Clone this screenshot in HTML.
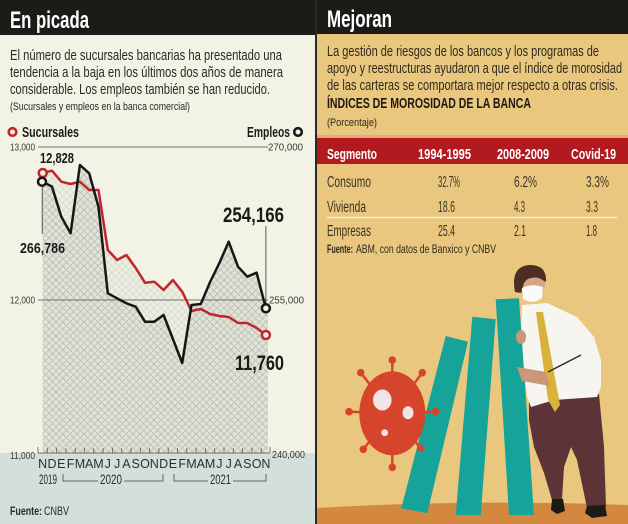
<!DOCTYPE html>
<html><head><meta charset="utf-8"><style>
html,body{margin:0;padding:0;background:#fff;}
svg{display:block;}
text{font-family:"Liberation Sans Narrow","Liberation Sans",sans-serif;}
</style></head><body>
<svg width="628" height="524" viewBox="0 0 628 524" xmlns="http://www.w3.org/2000/svg">
<defs>
<pattern id="xh" width="7" height="7" patternUnits="userSpaceOnUse">
<rect width="7" height="7" fill="#e1e3d8"/>
<path d="M0,0 L7,7 M7,0 L0,7" stroke="#b7baae" stroke-width="0.7"/>
</pattern>
<pattern id="lh" width="7" height="7" patternUnits="userSpaceOnUse">
<rect width="7" height="7" fill="#eceee2"/>
<path d="M0,0 L7,7 M7,0 L0,7" stroke="#d0d2c6" stroke-width="0.6"/>
</pattern>
</defs>

<!-- LEFT PANEL -->
<rect x="0" y="0" width="315" height="524" fill="#f2f2e5"/>
<rect x="0" y="453" width="315" height="71" fill="#d2dfdb"/>
<rect x="0" y="0" width="315" height="35" fill="#1c1b18"/>
<text x="10" y="28" font-size="24" font-weight="bold" fill="#ffffff" textLength="79" lengthAdjust="spacingAndGlyphs">En picada</text>

<text x="10" y="60" font-size="14.5" fill="#2a2a28" textLength="272" lengthAdjust="spacingAndGlyphs">El número de sucursales bancarias ha presentado una</text>
<text x="10" y="77" font-size="14.5" fill="#2a2a28" textLength="273" lengthAdjust="spacingAndGlyphs">tendencia a la baja en los últimos dos años de manera</text>
<text x="10" y="94" font-size="14.5" fill="#2a2a28" textLength="260" lengthAdjust="spacingAndGlyphs">considerable. Los empleos también se han reducido.</text>
<text x="10" y="110" font-size="11" fill="#2a2a28" textLength="180" lengthAdjust="spacingAndGlyphs">(Sucursales y empleos en la banca comercial)</text>

<circle cx="12.5" cy="132" r="3.8" fill="#f2f2e5" stroke="#c0262c" stroke-width="2.6"/>
<text x="22" y="137" font-size="14.5" font-weight="bold" fill="#1c1c1a" textLength="57" lengthAdjust="spacingAndGlyphs">Sucursales</text>
<text x="247" y="137" font-size="14.5" font-weight="bold" fill="#1c1c1a" textLength="43" lengthAdjust="spacingAndGlyphs">Empleos</text>
<circle cx="298" cy="132" r="3.8" fill="#f2f2e5" stroke="#1a1a1a" stroke-width="2.6"/>

<!-- areas -->
<polygon fill="url(#lh)" points="42.7,173 52,170.7 61.3,181.7 70.6,184 79.9,181.7 89.2,190 98.5,190 107.8,250 117.1,260 126.4,255 135.7,268 145,282.7 154.3,281.7 163.6,290 172.9,280 182.2,291.7 191.5,311 200.8,309 210.1,314 219.4,316 228.7,317 238,323 247.3,323 256.6,328 265.9,335 268,335 268,453 42.7,453"/>
<polygon fill="url(#xh)" points="42.7,181.7 52,186.7 61.3,216.7 70.6,233.3 79.9,165 89.2,173.3 98.5,207 107.8,293.3 117.1,298.3 126.4,303.3 135.7,306.7 145,321.7 154.3,321.7 163.6,315 172.9,339 182.2,363 191.5,305 200.8,304 210.1,282 219.4,263 228.7,241.7 238,266.7 247.3,276.7 256.6,272.7 265.9,308.3 268,308.3 268,453 42.7,453"/>

<!-- grid -->
<line x1="38" y1="147" x2="268" y2="147" stroke="#4a4a46" stroke-width="0.8"/>
<line x1="38" y1="300" x2="268" y2="300" stroke="#4a4a46" stroke-width="0.8"/>
<line x1="38" y1="453" x2="270" y2="453" stroke="#4a4a46" stroke-width="0.8"/>
<g stroke="#5a5a56" stroke-width="0.8">
<line x1="38" y1="447" x2="38" y2="453"/><line x1="47.3" y1="448" x2="47.3" y2="453"/><line x1="56.6" y1="448" x2="56.6" y2="453"/><line x1="65.9" y1="448" x2="65.9" y2="453"/><line x1="75.2" y1="448" x2="75.2" y2="453"/><line x1="84.5" y1="448" x2="84.5" y2="453"/><line x1="93.8" y1="448" x2="93.8" y2="453"/><line x1="103.1" y1="448" x2="103.1" y2="453"/><line x1="112.4" y1="448" x2="112.4" y2="453"/><line x1="121.7" y1="448" x2="121.7" y2="453"/><line x1="131" y1="448" x2="131" y2="453"/><line x1="140.3" y1="448" x2="140.3" y2="453"/><line x1="149.6" y1="448" x2="149.6" y2="453"/><line x1="158.9" y1="448" x2="158.9" y2="453"/><line x1="168.2" y1="448" x2="168.2" y2="453"/><line x1="177.5" y1="448" x2="177.5" y2="453"/><line x1="186.8" y1="448" x2="186.8" y2="453"/><line x1="196.1" y1="448" x2="196.1" y2="453"/><line x1="205.4" y1="448" x2="205.4" y2="453"/><line x1="214.7" y1="448" x2="214.7" y2="453"/><line x1="224" y1="448" x2="224" y2="453"/><line x1="233.3" y1="448" x2="233.3" y2="453"/><line x1="242.6" y1="448" x2="242.6" y2="453"/><line x1="251.9" y1="448" x2="251.9" y2="453"/><line x1="261.2" y1="448" x2="261.2" y2="453"/><line x1="270" y1="447" x2="270" y2="453"/>
</g>

<g font-size="10" fill="#3a3a36">
<text x="10" y="150.5" textLength="25" lengthAdjust="spacingAndGlyphs">13,000</text>
<text x="10" y="303.5" textLength="25" lengthAdjust="spacingAndGlyphs">12,000</text>
<text x="10" y="459" textLength="25" lengthAdjust="spacingAndGlyphs">11,000</text>
<text x="268" y="150.5" textLength="35" lengthAdjust="spacingAndGlyphs">270,000</text>
<text x="269" y="303.5" textLength="35" lengthAdjust="spacingAndGlyphs">255,000</text>
<text x="272" y="458" textLength="33" lengthAdjust="spacingAndGlyphs">240,000</text>
</g>

<!-- lines -->
<polyline fill="none" stroke="#c0262c" stroke-width="2.5" stroke-linejoin="round" points="42.7,173 52,170.7 61.3,181.7 70.6,184 79.9,181.7 89.2,190 98.5,190 107.8,250 117.1,260 126.4,255 135.7,268 145,282.7 154.3,281.7 163.6,290 172.9,280 182.2,291.7 191.5,311 200.8,309 210.1,314 219.4,316 228.7,317 238,323 247.3,323 256.6,328 265.9,335"/>
<polyline fill="none" stroke="#161616" stroke-width="2.5" stroke-linejoin="round" points="42.7,181.7 52,186.7 61.3,216.7 70.6,233.3 79.9,165 89.2,173.3 98.5,207 107.8,293.3 117.1,298.3 126.4,303.3 135.7,306.7 145,321.7 154.3,321.7 163.6,315 172.9,339 182.2,363 191.5,305 200.8,304 210.1,282 219.4,263 228.7,241.7 238,266.7 247.3,276.7 256.6,272.7 265.9,308.3"/>

<line x1="42.2" y1="186" x2="42.2" y2="234" stroke="#333" stroke-width="0.8"/>
<line x1="265.9" y1="226" x2="265.9" y2="303" stroke="#333" stroke-width="0.8"/>

<circle cx="42.7" cy="173" r="4" fill="#f2f2e5" stroke="#c0262c" stroke-width="2.5"/>
<circle cx="42" cy="181.7" r="4" fill="#f2f2e5" stroke="#161616" stroke-width="2.5"/>
<circle cx="265.9" cy="335" r="4" fill="#f2f2e5" stroke="#c0262c" stroke-width="2.5"/>
<circle cx="265.9" cy="308.3" r="4" fill="#f2f2e5" stroke="#161616" stroke-width="2.5"/>

<g font-weight="bold" fill="#1a1a1a">
<text x="40" y="163" font-size="15" textLength="34" lengthAdjust="spacingAndGlyphs">12,828</text>
<text x="20" y="253" font-size="15" textLength="45" lengthAdjust="spacingAndGlyphs">266,786</text>
<text x="223" y="222" font-size="21" textLength="61" lengthAdjust="spacingAndGlyphs">254,166</text>
<text x="235" y="370" font-size="21" textLength="49" lengthAdjust="spacingAndGlyphs">11,760</text>
</g>

<g font-size="12.5" fill="#2e2e2c" text-anchor="middle">
<text x="42.7" y="468">N</text><text x="52" y="468">D</text><text x="61.3" y="468">E</text><text x="70.6" y="468">F</text><text x="79.9" y="468">M</text><text x="89.2" y="468">A</text><text x="98.5" y="468">M</text><text x="107.8" y="468">J</text><text x="117.1" y="468">J</text><text x="126.4" y="468">A</text><text x="135.7" y="468">S</text><text x="145" y="468">O</text><text x="154.3" y="468">N</text><text x="163.6" y="468">D</text><text x="172.9" y="468">E</text><text x="182.2" y="468">F</text><text x="191.5" y="468">M</text><text x="200.8" y="468">A</text><text x="210.1" y="468">M</text><text x="219.4" y="468">J</text><text x="228.7" y="468">J</text><text x="238" y="468">A</text><text x="247.3" y="468">S</text><text x="256.6" y="468">O</text><text x="265.9" y="468">N</text>
</g>
<g font-size="14" fill="#2e2e2c">
<text x="39" y="484" textLength="18" lengthAdjust="spacingAndGlyphs">2019</text>
<text x="100" y="484" textLength="22" lengthAdjust="spacingAndGlyphs">2020</text>
<text x="210" y="484" textLength="21" lengthAdjust="spacingAndGlyphs">2021</text>
</g>
<g fill="none" stroke="#444" stroke-width="0.8">
<polyline points="63,474 63,481 98,481"/>
<polyline points="124,481 163,481 163,474"/>
<polyline points="174,474 174,481 208,481"/>
<polyline points="233,481 266,481 266,474"/>
</g>
<text x="10" y="515" font-size="12" font-weight="bold" fill="#2a2a28" textLength="32" lengthAdjust="spacingAndGlyphs">Fuente:</text>
<text x="44" y="515" font-size="12" fill="#2a2a28" textLength="25" lengthAdjust="spacingAndGlyphs">CNBV</text>

<!-- separator -->
<rect x="315" y="0" width="2" height="524" fill="#2a2925"/>

<!-- RIGHT PANEL -->
<rect x="317" y="0" width="311" height="524" fill="#eac77f"/>
<rect x="317" y="0" width="311" height="34" fill="#1c1b18"/>
<text x="327" y="27" font-size="24" font-weight="bold" fill="#ffffff" textLength="65" lengthAdjust="spacingAndGlyphs">Mejoran</text>

<g font-size="14.5" fill="#2e2a1e">
<text x="327" y="56" textLength="272" lengthAdjust="spacingAndGlyphs">La gestión de riesgos de los bancos y los programas de</text>
<text x="327" y="73" textLength="295" lengthAdjust="spacingAndGlyphs">apoyo y reestructuras ayudaron a que el índice de morosidad</text>
<text x="327" y="90" textLength="291" lengthAdjust="spacingAndGlyphs">de las carteras se comportara mejor respecto a otras crisis.</text>
<text x="327" y="108" font-weight="bold" fill="#1e1a12" textLength="204" lengthAdjust="spacingAndGlyphs">ÍNDICES DE MOROSIDAD DE LA BANCA</text>
</g>
<text x="327" y="126" font-size="11" fill="#2e2a1e" textLength="50" lengthAdjust="spacingAndGlyphs">(Porcentaje)</text>

<rect x="317" y="135" width="311" height="3" fill="#e7a77a"/>
<rect x="317" y="138" width="311" height="26" fill="#b31a20"/>
<g font-size="14.5" font-weight="bold" fill="#ffffff">
<text x="327" y="159" textLength="50" lengthAdjust="spacingAndGlyphs">Segmento</text>
<text x="418" y="159" textLength="53" lengthAdjust="spacingAndGlyphs">1994-1995</text>
<text x="497" y="159" textLength="52" lengthAdjust="spacingAndGlyphs">2008-2009</text>
<text x="571" y="159" textLength="45" lengthAdjust="spacingAndGlyphs">Covid-19</text>
</g>
<g font-size="15.5" fill="#3b3423">
<text x="327" y="187" textLength="44" lengthAdjust="spacingAndGlyphs">Consumo</text>
<text x="438" y="187" textLength="22" lengthAdjust="spacingAndGlyphs">32.7%</text>
<text x="514" y="187" textLength="23" lengthAdjust="spacingAndGlyphs">6.2%</text>
<text x="586" y="187" textLength="23" lengthAdjust="spacingAndGlyphs">3.3%</text>
<text x="327" y="212" textLength="39" lengthAdjust="spacingAndGlyphs">Vivienda</text>
<text x="438" y="212" textLength="17" lengthAdjust="spacingAndGlyphs">18.6</text>
<text x="514" y="212" textLength="11" lengthAdjust="spacingAndGlyphs">4.3</text>
<text x="586" y="212" textLength="12" lengthAdjust="spacingAndGlyphs">3.3</text>
<text x="327" y="236" textLength="44" lengthAdjust="spacingAndGlyphs">Empresas</text>
<text x="438" y="236" textLength="17" lengthAdjust="spacingAndGlyphs">25.4</text>
<text x="514" y="236" textLength="12" lengthAdjust="spacingAndGlyphs">2.1</text>
<text x="586" y="236" textLength="11" lengthAdjust="spacingAndGlyphs">1.8</text>
</g>
<line x1="327" y1="217.5" x2="617" y2="217.5" stroke="#f6ecd2" stroke-width="1.5"/>
<text x="327" y="253" font-size="11.5" font-weight="bold" fill="#2e2a1e" textLength="26" lengthAdjust="spacingAndGlyphs">Fuente:</text>
<text x="356" y="253" font-size="11.5" fill="#2e2a1e" textLength="140" lengthAdjust="spacingAndGlyphs">ABM, con datos de Banxico y CNBV</text>

<!-- ground -->
<path d="M317,508 Q470,499 628,505 L628,524 L317,524 Z" fill="#d4873f"/>

<!-- man: pants -->
<polygon fill="#5c3337" points="529,398 599,394 604,447 606,507 587,508 577,460 571,447 564,467 562,500 552,500 544,473 534,447 529,420"/>
<!-- shoes -->
<polygon fill="#1e1a18" points="552,499 563,499 565,511 557,514 551,510"/>
<polygon fill="#1e1a18" points="587,506 605,505 607,516 592,518 585,513"/>
<!-- shirt -->
<polygon fill="#f7f5f0" points="522,305 547,303 577,317 594,337 601,360 601,387 597,397 554,400 531,407 527,397 524,370 521,337"/>
<!-- tie -->
<polygon fill="#d9b23a" points="536,312 543,312 560,405 555,412 548,400"/>
<!-- head -->
<ellipse cx="531" cy="283" rx="14" ry="15" fill="#d6a486"/>
<path d="M515,292 Q510,266 530,265 Q547,265 546,282 L539,278 Q528,276 524,283 L521,293 Z" fill="#4a2f22"/>
<path d="M522,288 Q532,283 543,287 L542,298 Q533,305 523,299 Z" fill="#fbfaf7"/>

<!-- bars -->
<polygon fill="#16a39a" points="445.7,336 468,341.7 427.3,513.3 401.3,508.3"/>
<polygon fill="#16a39a" points="472.3,316.7 495.7,319.3 480.7,515 455.7,515"/>
<polygon fill="#16a39a" points="495.7,299.3 519,298.3 534,515 509,515"/>

<!-- hands & pointer -->
<ellipse cx="521" cy="337" rx="5" ry="7" fill="#c9977a"/>
<polygon fill="#c9977a" points="517,367 546,372 550,386 522,381"/>
<line x1="548" y1="372" x2="581" y2="355" stroke="#2a2a2a" stroke-width="1.5"/>

<!-- virus -->
<g fill="#d6452b" stroke="#d6452b">
<g stroke-width="2.5">
<line x1="392.3" y1="413" x2="392.3" y2="360"/>
<line x1="392.3" y1="413" x2="360.7" y2="372.7"/>
<line x1="392.3" y1="413" x2="422.3" y2="372.7"/>
<line x1="392.3" y1="413" x2="349" y2="411.7"/>
<line x1="392.3" y1="413" x2="435.7" y2="411.7"/>
<line x1="392.3" y1="413" x2="363.3" y2="449.3"/>
<line x1="392.3" y1="413" x2="420.7" y2="448.3"/>
<line x1="392.3" y1="413" x2="392.3" y2="467.3"/>
</g>
<g stroke="none">
<circle cx="392.3" cy="360" r="3.8"/><circle cx="360.7" cy="372.7" r="3.8"/><circle cx="422.3" cy="372.7" r="3.8"/><circle cx="349" cy="411.7" r="3.8"/><circle cx="435.7" cy="411.7" r="3.8"/><circle cx="363.3" cy="449.3" r="3.8"/><circle cx="420.7" cy="448.3" r="3.8"/><circle cx="392.3" cy="467.3" r="3.8"/>
<ellipse cx="392.3" cy="413.3" rx="33" ry="42"/>
</g>
</g>
<ellipse cx="382.3" cy="400" rx="9.3" ry="10.5" fill="#f1e4e4"/>
<ellipse cx="408" cy="412.7" rx="5.5" ry="6.5" fill="#f1e4e4"/>
<circle cx="384.7" cy="432.7" r="3.4" fill="#f1e4e4"/>
</svg>
</body></html>
